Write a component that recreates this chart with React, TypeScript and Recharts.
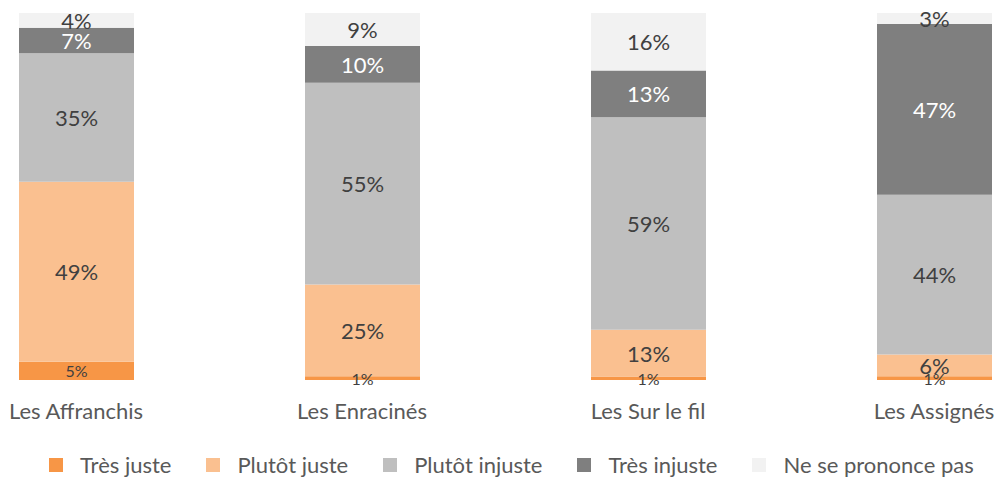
import React from 'react'
import { BarChart, Bar, XAxis, YAxis, LabelList } from 'recharts'

const categories = ['Les Affranchis', 'Les Enracinés', 'Les Sur le fil', 'Les Assignés']
const tresJuste = [5, 1, 1, 1]
const plutotJuste = [49, 25, 13, 6]
const plutotInjuste = [35, 55, 59, 44]
const tresInjuste = [7, 10, 13, 47]
const nePrononcePas = [4, 9, 16, 3]

const series = [
  { key: 'tresJuste', name: 'Très juste', values: tresJuste, color: '#F79646', labelColor: '#404040', labelSize: 16 },
  { key: 'plutotJuste', name: 'Plutôt juste', values: plutotJuste, color: '#FAC090', labelColor: '#404040', labelSize: 22 },
  { key: 'plutotInjuste', name: 'Plutôt injuste', values: plutotInjuste, color: '#BFBFBF', labelColor: '#404040', labelSize: 22 },
  { key: 'tresInjuste', name: 'Très injuste', values: tresInjuste, color: '#7F7F7F', labelColor: '#FFFFFF', labelSize: 22 },
  { key: 'nePrononcePas', name: 'Ne se prononce pas', values: nePrononcePas, color: '#F2F2F2', labelColor: '#404040', labelSize: 22 },
]

const data = categories.map((name, i) => {
  const row: Record<string, string | number> = { name }
  series.forEach((s) => {
    row[s.key] = s.values[i]
  })
  return row
})

const FONT = 'Lato, "Open Sans", sans-serif'

function makeLabel(color: string, size: number) {
  return (props: any) => {
    const { x, y, width, height, value } = props
    return (
      <text
        x={x + width / 2}
        y={y + height / 2}
        textAnchor="middle"
        dominantBaseline="central"
        fill={color}
        fontSize={size}
        fontFamily={FONT}
      >
        {value}%
      </text>
    )
  }
}

export default function App() {
  return (
    <div style={{ position: 'relative', width: 997, height: 479, overflow: 'hidden', fontFamily: FONT, background: '#fff' }}>
      <style>{`body { margin: 0; }`}</style>
      <div style={{ position: 'absolute', left: -67.5, top: 0 }}>
        <BarChart
          width={1144}
          height={479}
          data={data}
          stackOffset="expand"
          barSize={115}
          margin={{ top: 13, right: 0, left: 0, bottom: 20 }}
        >
          <XAxis
            dataKey="name"
            axisLine={false}
            tickLine={false}
            interval={0}
            height={79}
            tickMargin={17}
            tick={{ fill: '#595959', fontSize: 22, fontFamily: FONT }}
          />
          <YAxis hide />
          {series.map((s) => (
            <Bar key={s.key} dataKey={s.key} name={s.name} stackId="a" fill={s.color} isAnimationActive={false}>
              <LabelList dataKey={s.key} content={makeLabel(s.labelColor, s.labelSize)} />
            </Bar>
          ))}
        </BarChart>
      </div>
      <div
        style={{
          position: 'absolute',
          top: 452,
          left: 49,
          height: 25,
          display: 'flex',
          alignItems: 'center',
          gap: 35,
          color: '#595959',
          fontSize: 22,
          lineHeight: '25px',
        }}
      >
        {series.map((s) => (
          <div key={s.key} style={{ display: 'flex', alignItems: 'center' }}>
            <span style={{ display: 'inline-block', width: 14, height: 14, background: s.color, marginRight: 17 }} />
            <span>{s.name}</span>
          </div>
        ))}
      </div>
    </div>
  )
}
